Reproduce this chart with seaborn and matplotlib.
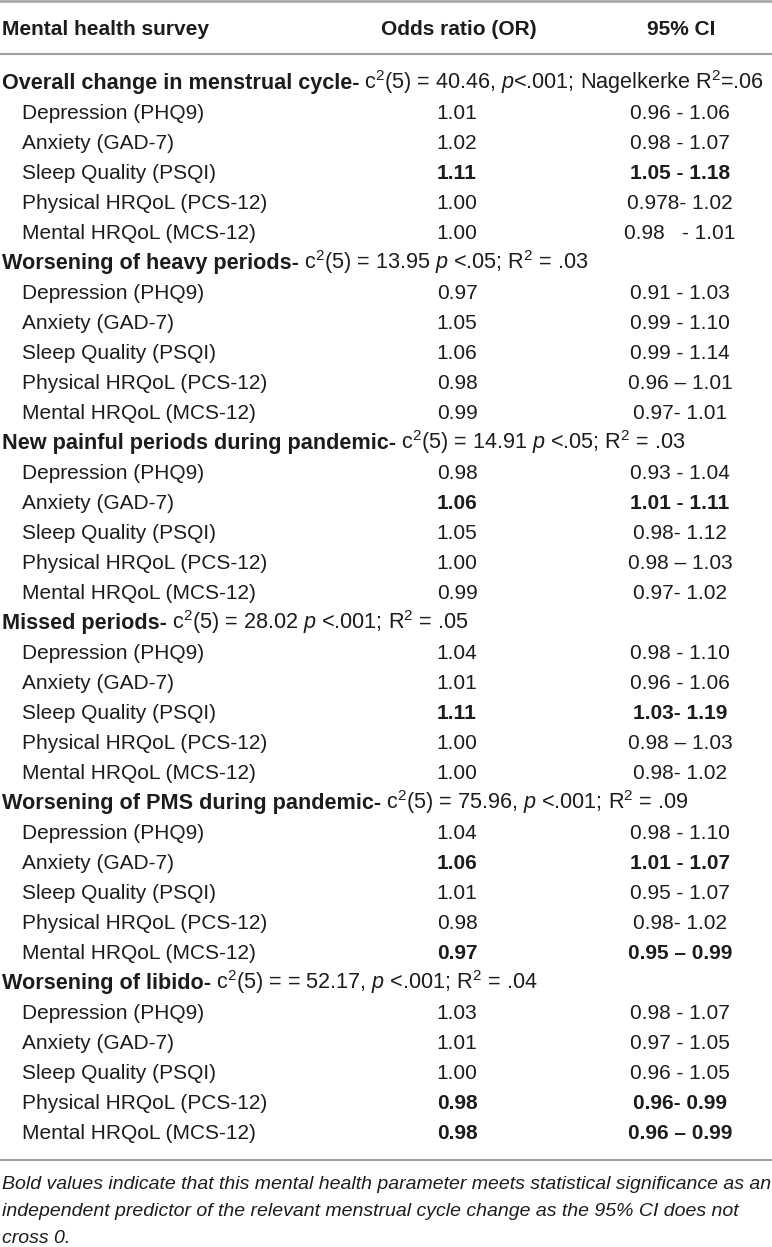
import matplotlib
matplotlib.use("Agg")
import matplotlib.pyplot as plt
import seaborn as sns

sns.set_theme(style="white")
base = "Liberation Sans"
plt.rcParams["font.family"] = [base, "DejaVu Sans"]
plt.rcParams["mathtext.fontset"] = "custom"
plt.rcParams["mathtext.rm"] = base
plt.rcParams["mathtext.it"] = base + ":italic"
plt.rcParams["mathtext.bf"] = base + ":bold"

# table content
header = ["Mental health survey", "Odds ratio (OR)", "95% CI"]
group_titles = [
    "Overall change in menstrual cycle-",
    "Worsening of heavy periods-",
    "New painful periods during pandemic-",
    "Missed periods-",
    "Worsening of PMS during pandemic-",
    "Worsening of libido-",
]
group_stats = [
    r"c$^2$(5) = 40.46, $p$<.001; Nagelkerke R$^2$=.06",
    r"c$^2$(5) = 13.95 $p$ <.05; R$^2$ = .03",
    r"c$^2$(5) = 14.91 $p$ <.05; R$^2$ = .03",
    r"c$^2$(5) = 28.02 $p$ <.001; R$^2$ = .05",
    r"c$^2$(5) = 75.96, $p$ <.001; R$^2$ = .09",
    r"c$^2$(5) = = 52.17, $p$ <.001; R$^2$ = .04",
]
measures = ["Depression (PHQ9)", "Anxiety (GAD-7)", "Sleep Quality (PSQI)",
            "Physical HRQoL (PCS-12)", "Mental HRQoL (MCS-12)"]
odds = [
    ["1.01", "1.02", "1.11", "1.00", "1.00"],
    ["0.97", "1.05", "1.06", "0.98", "0.99"],
    ["0.98", "1.06", "1.05", "1.00", "0.99"],
    ["1.04", "1.01", "1.11", "1.00", "1.00"],
    ["1.04", "1.06", "1.01", "0.98", "0.97"],
    ["1.03", "1.01", "1.00", "0.98", "0.98"],
]
ci = [
    ["0.96 - 1.06", "0.98 - 1.07", "1.05 - 1.18", "0.978- 1.02", "0.98   - 1.01"],
    ["0.91 - 1.03", "0.99 - 1.10", "0.99 - 1.14", "0.96 \u2013 1.01", "0.97- 1.01"],
    ["0.93 - 1.04", "1.01 - 1.11", "0.98- 1.12", "0.98 \u2013 1.03", "0.97- 1.02"],
    ["0.98 - 1.10", "0.96 - 1.06", "1.03- 1.19", "0.98 \u2013 1.03", "0.98- 1.02"],
    ["0.98 - 1.10", "1.01 - 1.07", "0.95 - 1.07", "0.98- 1.02", "0.95 \u2013 0.99"],
    ["0.98 - 1.07", "0.97 - 1.05", "0.96 - 1.05", "0.96- 0.99", "0.96 \u2013 0.99"],
]
significant = [
    [0, 0, 1, 0, 0],
    [0, 0, 0, 0, 0],
    [0, 1, 0, 0, 0],
    [0, 0, 1, 0, 0],
    [0, 1, 0, 0, 1],
    [0, 0, 0, 1, 1],
]
footnote = [
    "Bold values indicate that this mental health parameter meets statistical significance as an",
    "independent predictor of the relevant menstrual cycle change as the 95% CI does not",
    "cross 0.",
]

W, H = 772, 1247
fig = plt.figure(figsize=(W / 100, H / 100), dpi=100)
ax = fig.add_axes([0, 0, 1, 1])
ax.set_xlim(0, W)
ax.set_ylim(H, 0)
ax.axis("off")

fs = 15
fs_group = 15.6
txt = "#1c1c1c"
line_c = "#a0a0a0"
x_lab, x_ind, x_or, x_ci = 2, 22, 457, 680
base_off = 7

ax.axhline(1, color=line_c, lw=1.8)
ax.axhline(54, color=line_c, lw=1.5)
ax.axhline(1160, color=line_c, lw=1.5)

ax.text(x_lab, 28 + base_off, header[0], fontsize=fs, fontweight="bold", color=txt, va="baseline")
ax.text(459, 28 + base_off, header[1], fontsize=fs, fontweight="bold", color=txt, va="baseline", ha="center")
ax.text(681, 28 + base_off, header[2], fontsize=fs, fontweight="bold", color=txt, va="baseline", ha="center")

renderer = fig.canvas.get_renderer()
y0, pitch = 82, 30.0
row = 0
for g, title in enumerate(group_titles):
    y = y0 + row * pitch + base_off
    t = ax.text(x_lab, y, title, fontsize=fs_group, fontweight="bold", color=txt, va="baseline")
    bb = t.get_window_extent(renderer=renderer)
    x_end = ax.transData.inverted().transform((bb.x1, bb.y0))[0]
    ax.text(x_end + 5, y, group_stats[g], fontsize=fs_group, color=txt, va="baseline")
    row += 1
    for i, m in enumerate(measures):
        y = y0 + row * pitch + base_off
        w = "bold" if significant[g][i] else "normal"
        ax.text(x_ind, y, m, fontsize=fs, color=txt, va="baseline")
        ax.text(x_or, y, odds[g][i], fontsize=fs, color=txt, va="baseline", ha="center", fontweight=w)
        ax.text(x_ci, y, ci[g][i], fontsize=fs, color=txt, va="baseline", ha="center", fontweight=w)
        row += 1

for k, line in enumerate(footnote):
    ax.text(x_lab, 1182 + k * 27 + base_off, line, fontsize=14, style="italic", color=txt, va="baseline")

fig.savefig("out.png", dpi=100)
